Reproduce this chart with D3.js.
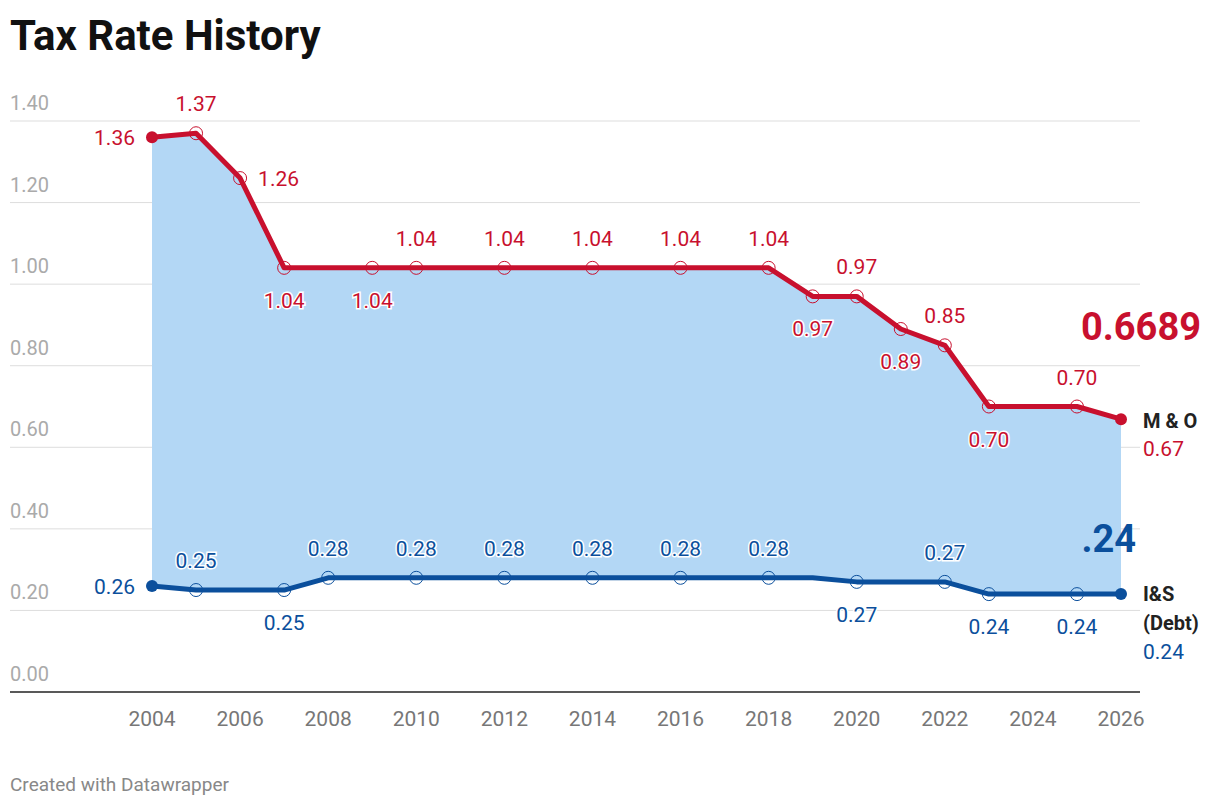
<!DOCTYPE html>
<html><head><meta charset="utf-8">
<script src="https://cdn.jsdelivr.net/npm/d3@7"></script>
<style>body{margin:0;background:#fff;font-family:Roboto,sans-serif}</style>
</head><body><div id="chart"></div>
<script>
// data
const moYears  = [2004,2005,2006,2007,2009,2010,2012,2014,2016,2018,2019,2020,2021,2022,2023,2025,2026];
const moValues = [1.36,1.37,1.26,1.04,1.04,1.04,1.04,1.04,1.04,1.04,0.97,0.97,0.89,0.85,0.70,0.70,0.6689];
const moLabelSide = ["l","a","r","b","b","a","a","a","a","a","b","a","b","a","b","a","e"];
const isYears  = [2004,2005,2007,2008,2010,2012,2014,2016,2018,2019,2020,2022,2023,2025,2026];
const isValues = [0.26,0.25,0.25,0.28,0.28,0.28,0.28,0.28,0.28,0.28,0.27,0.27,0.24,0.24,0.24];
const isLabelSide = ["l","a","b","a","a","a","a","a","a","n","b","a","b","b","e"];
const yTicks = [0,0.2,0.4,0.6,0.8,1.0,1.2,1.4];
const xTicks = [2004,2006,2008,2010,2012,2014,2016,2018,2020,2022,2024,2026];

const red = "#c8102e", blue = "#0b4f9c";
const svg = d3.select("#chart").append("svg").attr("width",1220).attr("height",808);

const x = d3.scaleLinear().domain([2004,2026]).range([152,1121]);
const y = d3.scaleLinear().domain([0,1.4]).range([692,121]);

svg.append("text").attr("x",10).attr("y",50).text("Tax Rate History")
  .attr("font-size",42).attr("font-weight",700).attr("fill","#111");

// grid + y labels
yTicks.forEach(t => {
  if (t > 0) svg.append("line").attr("x1",10).attr("x2",1140).attr("y1",y(t)).attr("y2",y(t))
    .attr("stroke","#ddd").attr("stroke-width",1);
  svg.append("text").attr("x",10).attr("y",y(t)-11).text(t.toFixed(2))
    .attr("font-size",20).attr("fill","#aaa");
});

// area between lines
const moData = moYears.map((d,i)=>({year:d,v:moValues[i],side:moLabelSide[i]}));
const isData = isYears.map((d,i)=>({year:d,v:isValues[i],side:isLabelSide[i]}));
const interp = data => yr => {
  for (let i=0;i<data.length-1;i++){
    const a=data[i],b=data[i+1];
    if (yr>=a.year && yr<=b.year) return a.v+(b.v-a.v)*(yr-a.year)/(b.year-a.year);
  }
  return data[data.length-1].v;
};
const isAt = interp(isData), moAt = interp(moData);
const allYears = Array.from(new Set(moYears.concat(isYears))).sort((a,b)=>a-b);
svg.append("path").datum(allYears)
  .attr("d", d3.area().x(d=>x(d)).y0(d=>y(isAt(d))).y1(d=>y(moAt(d))))
  .attr("fill","#b3d7f5");

// baseline
svg.append("line").attr("x1",10).attr("x2",1140).attr("y1",y(0)).attr("y2",y(0))
  .attr("stroke","#222").attr("stroke-width",1.5);

xTicks.forEach(t => svg.append("text").attr("x",x(t)).attr("y",726).attr("text-anchor","middle")
  .text(t).attr("font-size",21).attr("fill","#777"));

function series(data, color, fmt){
  svg.append("path").datum(data).attr("d", d3.line().x(d=>x(d.year)).y(d=>y(d.v)))
    .attr("fill","none").attr("stroke",color).attr("stroke-width",5).attr("stroke-linejoin","round");
  data.forEach((d,i) => {
    const px=x(d.year), py=y(d.v);
    if (i===0 || i===data.length-1) {
      svg.append("circle").attr("cx",px).attr("cy",py).attr("r",6).attr("fill",color);
    } else if (d.side!=="n") {
      svg.append("circle").attr("cx",px).attr("cy",py).attr("r",6.5)
        .attr("fill","none").attr("stroke",color).attr("stroke-width",1);
    }
    if (d.side==="n" || d.side==="e") return;
    let tx=px, ty=py, anchor="middle";
    if (d.side==="a") ty=py-22;
    if (d.side==="b") ty=py+40;
    if (d.side==="l") {tx=px-17; ty=py+8; anchor="end";}
    if (d.side==="r") {tx=px+18; ty=py+8; anchor="start";}
    svg.append("text").attr("x",tx).attr("y",ty).attr("text-anchor",anchor)
      .attr("font-size",21).text(fmt(d.v))
      .attr("fill",color).attr("stroke","#fff").attr("stroke-width",3).attr("paint-order","stroke");
  });
}
series(moData, red, v=>v.toFixed(2));
series(isData, blue, v=>v.toFixed(2));

// end labels
const lastMo = moData[moData.length-1], lastIs = isData[isData.length-1];
svg.append("text").attr("x",1143).attr("y",y(lastMo.v)+9).text("M & O")
  .attr("font-size",20).attr("font-weight",700).attr("fill","#222");
svg.append("text").attr("x",1143).attr("y",y(lastMo.v)+37).text(lastMo.v.toFixed(2))
  .attr("font-size",21).attr("fill",red);
["I&S","(Debt)"].forEach((s,i)=>svg.append("text").attr("x",1143).attr("y",y(lastIs.v)+7+i*29)
  .text(s).attr("font-size",20).attr("font-weight",700).attr("fill","#222"));
svg.append("text").attr("x",1143).attr("y",y(lastIs.v)+65).text(lastIs.v.toFixed(2))
  .attr("font-size",21).attr("fill",blue);

// callouts
svg.append("text").attr("x",1201).attr("y",340).attr("text-anchor","end").text("0.6689")
  .attr("font-size",38).attr("font-weight",700).attr("fill",red);
svg.append("text").attr("x",1136).attr("y",552).attr("text-anchor","end").text(".24")
  .attr("font-size",38).attr("font-weight",700).attr("fill",blue);

svg.append("text").attr("x",10).attr("y",791).text("Created with Datawrapper")
  .attr("font-size",19).attr("fill","#888");
</script></body></html>
